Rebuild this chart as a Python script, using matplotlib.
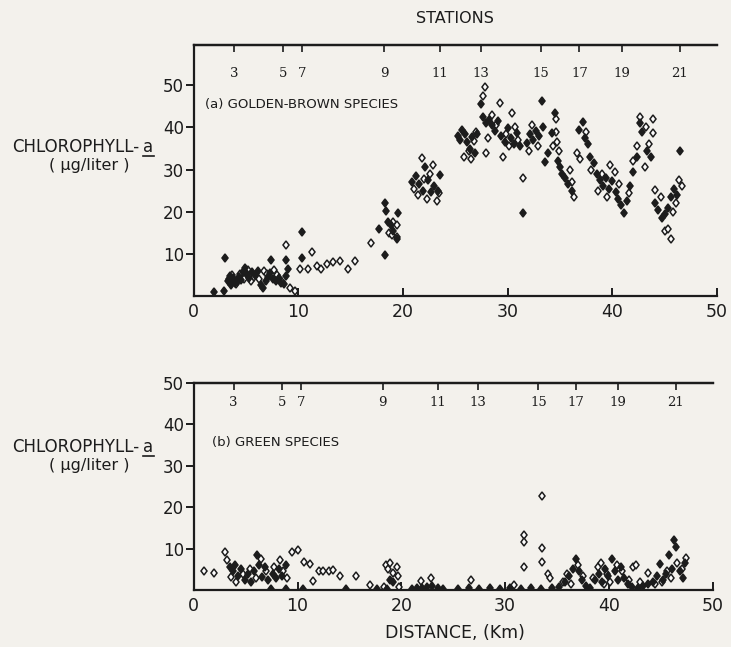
import matplotlib
matplotlib.use("Agg")
import matplotlib.pyplot as plt
from matplotlib.lines import Line2D

# station numbers and their distance along the river (km)
stations = [3, 5, 7, 9, 11, 13, 15, 17, 19, 21]
station_km = [3.85, 8.55, 10.35, 18.2, 23.5, 27.4, 33.2, 36.85, 40.9, 46.45]

xticks = [0, 10, 20, 30, 40, 50]
yticks = [10, 20, 30, 40, 50]

# (a) golden-brown species, filled diamonds
gb_fill_x = [1.9, 2.9, 3.0, 3.3, 3.5, 3.6, 3.8, 3.9, 4.1, 4.3, 4.5, 4.7, 4.9, 5.1, 5.3, 5.6, 5.9, 6.1,
             6.4, 6.6, 6.9, 7.1, 7.3, 7.4, 7.6, 7.9, 8.1, 8.3, 8.6, 8.8, 8.8, 9.0, 10.3, 10.3,
             17.7, 18.3, 18.4, 18.3, 18.6, 18.8, 19.0, 19.5, 19.4,
             20.9, 21.2, 21.5, 21.9, 22.1, 22.4, 22.7, 23.0, 23.3, 23.5,
             25.2, 25.4, 25.6, 25.9, 26.1, 26.4, 26.6, 26.9, 27.1, 27.4, 27.6, 27.9, 28.2, 28.5,
             28.8, 29.1, 29.4, 29.7, 30.0, 30.3, 30.6, 30.9, 31.2, 31.5, 31.8, 32.1, 32.4, 32.7,
             33.0, 33.3, 33.4, 33.6, 33.8, 34.2, 34.5, 34.8, 35.0, 35.2, 35.5, 35.8, 36.1,
             36.8, 37.2, 37.4, 37.7, 37.9, 38.2, 38.5, 38.8, 39.1, 39.4, 39.7, 40.0, 40.3, 40.5,
             40.8, 41.1, 41.4, 41.7, 42.0, 42.3, 42.6, 42.8, 43.3, 43.7, 44.1, 44.4, 44.7, 45.0,
             45.3, 45.6, 45.9, 46.2, 46.5]
gb_fill_y = [1.0, 1.2, 9.0, 3.5, 4.8, 2.6, 4.2, 3.0, 3.4, 4.6, 3.8, 5.6, 6.6, 5.2, 4.3, 5.8, 5.0, 5.9,
             2.6, 1.8, 3.6, 4.6, 5.5, 8.5, 4.1, 3.6, 4.3, 3.1, 2.8, 4.7, 8.6, 6.4, 9.0, 15.2,
             16.0, 22.1, 20.2, 9.8, 17.5, 16.8, 15.5, 19.8, 13.5,
             27.0, 28.5, 26.5, 25.0, 30.5, 27.5, 24.8, 26.0, 25.0, 28.8,
             38.0, 37.0, 39.5, 38.5, 36.5, 35.0, 37.8, 34.0, 38.5, 45.5, 42.5, 41.0, 41.8, 40.5,
             39.2, 41.5, 38.0, 36.5, 39.8, 37.5, 36.0, 38.8, 35.5, 19.8, 36.2, 38.5, 37.0, 39.2,
             38.0, 46.2, 40.0, 31.7, 34.0, 38.8, 43.5, 32.0, 30.5, 29.0, 28.0, 26.5, 25.0,
             39.5, 41.4, 37.5, 36.0, 33.0, 31.5, 29.0, 27.5, 26.0, 28.0, 25.5, 27.2, 24.8, 23.0,
             21.5, 19.8, 22.5, 26.0, 29.5, 33.0, 41.0, 39.0, 34.5, 33.0, 22.0, 20.5, 18.5, 19.5,
             21.0, 23.5, 25.5, 24.0, 34.3]

# (a) golden-brown species, open diamonds
gb_open_x = [3.4, 3.7, 4.0, 4.4, 4.8, 5.2, 5.5, 5.8, 6.2, 6.7, 7.0, 7.7, 8.0, 8.4, 8.8, 9.2, 9.7,
             10.2, 10.9, 11.3, 11.8, 12.2, 12.7, 13.3, 14.0, 14.7, 15.4, 16.9, 18.7, 19.0, 19.4,
             19.4, 18.9, 21.0, 21.4, 21.8, 22.0, 22.3, 22.6, 22.9, 23.2, 23.4,
             25.8, 26.3, 26.5, 26.8, 27.0, 27.6, 27.8, 27.9, 28.1, 28.5, 28.9, 29.3, 29.5, 29.8,
             30.1, 30.4, 30.7, 31.0, 31.5, 32.0, 32.3, 32.9, 34.3, 34.6, 34.6, 34.7, 34.9,
             35.9, 36.1, 36.3, 36.6, 36.9, 37.5, 38.0, 38.6, 39.0, 39.5, 39.8, 40.2, 40.6, 41.6,
             42.0, 42.3, 42.6, 43.1, 43.2, 43.5, 43.9, 43.9, 44.1, 44.6, 45.0, 45.3, 45.6, 45.8,
             46.1, 46.4, 46.6]
gb_open_y = [4.0, 5.0, 2.8, 5.2, 4.0, 6.2, 3.6, 4.4, 4.0, 6.0, 5.2, 6.2, 5.0, 3.4, 12.1, 2.0, 1.2,
             6.4, 6.4, 10.4, 7.2, 6.3, 7.7, 8.0, 8.3, 6.3, 8.2, 12.6, 15.0, 17.5, 16.8,
             14.0, 14.5, 25.5, 24.0, 32.8, 27.8, 23.0, 29.0, 31.0, 22.5, 24.5,
             33.0, 34.5, 32.4, 36.8, 39.0, 47.4, 49.5, 34.0, 37.5, 43.0, 40.5, 45.9, 33.1, 38.5,
             35.5, 43.5, 40.0, 37.0, 28.1, 34.5, 40.5, 35.5, 35.5, 42.0, 39.0, 36.5, 34.5,
             30.0, 27.0, 23.6, 34.0, 32.4, 39.0, 30.0, 25.0, 29.0, 23.5, 31.2, 29.5, 26.5, 24.5,
             32.0, 35.5, 42.4, 30.5, 40.2, 36.0, 42.0, 38.8, 25.2, 23.5, 15.5, 16.0, 13.6, 20.0,
             22.0, 27.6, 26.0]

# (b) green species, filled diamonds
gr_fill_x = [3.5, 3.8, 4.0, 4.3, 4.6, 4.9, 5.2, 5.5, 5.8, 6.1, 6.3, 6.6, 6.9, 7.2, 7.4, 7.6, 7.9,
             8.2, 8.5, 8.9, 8.9, 10.5, 14.7, 17.7, 18.6, 18.9, 19.2,
             21.0, 21.5, 22.0, 22.5, 23.0, 23.5, 24.0, 25.5, 26.5, 27.5, 28.5, 29.5, 30.5, 31.5,
             32.5, 33.5, 34.5, 35.2, 35.8, 36.2, 36.5, 36.8, 37.1, 37.4, 37.8, 38.2, 38.7, 39.0,
             39.3, 39.6, 39.9, 40.3, 40.6, 40.9, 41.2, 41.5, 41.8, 42.2, 42.8, 43.3, 43.8, 44.2,
             44.6, 44.9, 45.2, 45.5, 45.8, 46.1, 46.3, 46.5, 46.8, 47.1, 47.3]
gr_fill_y = [5.5, 4.5, 6.0, 3.5, 5.0, 2.5, 3.8, 2.0, 4.5, 8.5, 6.0, 3.2, 5.5, 2.5, 0.3, 4.0, 3.0,
             5.2, 3.5, 6.0, 0.3, 0.3, 0.3, 0.3, 0.3, 2.5, 2.0,
             0.3, 0.5, 0.6, 0.8, 1.0, 0.5, 0.3, 0.3, 0.4, 0.3, 0.4, 0.3, 0.4, 0.3,
             0.4, 0.3, 0.5, 0.8, 2.0, 3.5, 5.0, 7.5, 4.5, 2.5, 1.0, 0.5, 2.5, 4.0,
             2.0, 5.0, 3.5, 7.5, 4.5, 2.5, 5.5, 3.0, 1.5, 0.8, 0.5, 1.0, 1.5, 2.0,
             3.5, 6.3, 2.5, 4.0, 8.5, 5.0, 12.0, 10.4, 4.5, 3.0, 6.5]

# (b) green species, open diamonds
gr_open_x = [1.0, 2.0, 3.0, 3.2, 3.6, 4.1, 4.7, 5.4, 6.0, 6.5, 7.0, 7.7, 8.3, 8.6, 9.0, 9.5, 10.0,
             10.6, 11.2, 11.5, 12.1, 12.5, 13.0, 13.4, 14.1, 15.6, 17.0, 18.3, 18.5, 18.7, 18.9,
             19.2, 19.6, 19.7, 19.8, 21.9, 22.9, 26.7, 30.9, 31.8, 31.8, 31.8, 33.6, 33.6, 33.6,
             34.1, 34.3, 35.6, 36.0, 36.3, 37.0, 37.5, 38.5, 38.9, 39.2, 39.5, 39.8, 40.1, 40.8,
             41.3, 41.9, 42.3, 42.6, 43.0, 43.8, 44.4, 45.1, 45.6, 46.0, 46.6, 47.0, 47.4]
gr_open_y = [4.6, 4.1, 9.2, 7.2, 3.2, 2.0, 4.0, 5.2, 3.0, 7.5, 4.5, 5.5, 7.2, 4.5, 2.8, 9.2, 9.7,
             6.8, 6.2, 2.2, 4.6, 4.6, 4.6, 4.8, 3.4, 3.4, 1.2, 0.8, 6.0, 5.0, 6.5,
             4.2, 5.5, 3.5, 0.7, 2.2, 2.9, 2.4, 1.2, 13.3, 11.6, 5.6, 22.7, 10.1, 6.8,
             4.0, 3.0, 2.0, 4.0, 1.5, 6.0, 3.5, 3.0, 5.5, 6.5, 1.5, 4.0, 2.0, 6.0,
             4.5, 2.5, 5.5, 6.0, 2.0, 4.1, 1.5, 2.0, 4.5, 3.0, 6.5, 5.0, 7.7]

paper = '#f3f1ec'
ink = '#1c1c1c'

fig = plt.figure(figsize=(7.31, 6.47), dpi=100, facecolor=paper)
ax1 = fig.add_axes([0.265, 0.5425, 0.716, 0.3875], facecolor=paper)
ax2 = fig.add_axes([0.265, 0.088, 0.710, 0.320], facecolor=paper)


def panel(ax, ox, oy, fx, fy, top, label, lab_x, lab_y, st_y):
    ax.plot(ox, oy, 'd', ms=4.3, mfc='white', mec=ink, mew=1.1, ls='none')
    ax.plot(fx, fy, 'd', ms=4.3, mfc=ink, mec=ink, mew=1.1, ls='none')
    ax.set_xlim(0, 50)
    ax.set_ylim(0, top)
    ax.spines['right'].set_visible(False)
    for s in ['left', 'bottom', 'top']:
        ax.spines[s].set_linewidth(1.6)
        ax.spines[s].set_color(ink)
    ax.set_xticks(xticks)
    ax.set_xticklabels([str(t) for t in xticks])
    ax.set_yticks(yticks)
    ax.tick_params(axis='x', direction='in', length=6, width=1.4, pad=5,
                   labelsize=12.5, colors=ink)
    ax.tick_params(axis='y', direction='out', length=6, width=1.4, pad=1,
                   labelsize=12, colors=ink)
    # station axis along the top
    sec = ax.secondary_xaxis('top')
    sec.set_xticks(station_km)
    sec.set_xticklabels([])
    sec.tick_params(direction='in', length=5, width=1.2, colors=ink)
    sec.spines['top'].set_linewidth(1.6)
    for k, n in zip(station_km, stations):
        ax.text(k, st_y, str(n), transform=ax.get_xaxis_transform(), ha='center', va='center',
                fontsize=9.5, family='DejaVu Serif', color=ink)
    ax.text(lab_x, lab_y, label, transform=ax.transAxes,
            ha='left', va='center', fontsize=9.5, color=ink)


panel(ax1, gb_open_x, gb_open_y, gb_fill_x, gb_fill_y, 59.5,
      '(a) GOLDEN-BROWN SPECIES', 0.022, 0.762, 0.888)
panel(ax2, gr_open_x, gr_open_y, gr_fill_x, gr_fill_y, 50,
      '(b) GREEN SPECIES', 0.035, 0.715, 0.908)

fig.text(0.622, 0.972, 'STATIONS', ha='center', va='center', fontsize=11.5, color=ink)
fig.text(0.622, 0.022, 'DISTANCE, (Km)', ha='center', va='center', fontsize=12.5, color=ink)

# y-axis captions with underlined "a"
for yc in [147, 447]:
    yf = 1 - yc / 647
    fig.text(0.190, yf, 'CHLOROPHYLL-', ha='right', va='center', fontsize=12, color=ink)
    fig.text(0.196, yf, 'a', ha='left', va='center', fontsize=12, color=ink)
    fig.add_artist(Line2D([0.196, 0.210], [yf - 0.014, yf - 0.014], color=ink, lw=1.2))
    fig.text(0.122, yf - 0.029, '( µg/liter )', ha='center', va='center', fontsize=11.5,
             color=ink)

fig.savefig('out.png', dpi=100, facecolor=paper)
